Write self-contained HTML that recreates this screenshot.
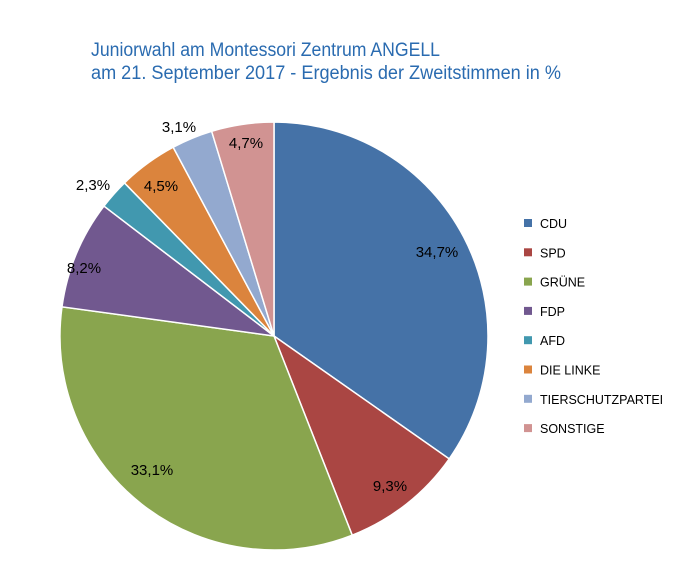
<!DOCTYPE html>
<html><head><meta charset="utf-8"><style>body{margin:0;background:#fff}svg{display:block}</style></head>
<body>
<svg id="s" width="685" height="567" xmlns="http://www.w3.org/2000/svg" font-family="Liberation Sans, sans-serif">
<text x="91" y="56" font-size="19" fill="#2a6bb0" textLength="349" lengthAdjust="spacingAndGlyphs">Juniorwahl am Montessori Zentrum ANGELL</text>
<text x="91" y="79" font-size="19" fill="#2a6bb0" textLength="470" lengthAdjust="spacingAndGlyphs">am 21. September 2017 - Ergebnis der Zweitstimmen in %</text>
<g id="pie"></g>
<g font-size="15" fill="#000">
<text x="437" y="257" text-anchor="middle">34,7%</text>
<text x="390" y="491" text-anchor="middle">9,3%</text>
<text x="152" y="475" text-anchor="middle">33,1%</text>
<text x="84" y="273" text-anchor="middle">8,2%</text>
<text x="93" y="190" text-anchor="middle">2,3%</text>
<text x="161" y="191" text-anchor="middle">4,5%</text>
<text x="179" y="132" text-anchor="middle">3,1%</text>
<text x="246" y="148" text-anchor="middle">4,7%</text>
</g>
<g id="leg" font-size="12.5" fill="#000"></g>
</svg>
<script>
var d=[[34.7,"#4572A7","CDU"],[9.3,"#AA4643","SPD"],[33.1,"#89A54E","GRÜNE"],[8.2,"#71588F","FDP"],[2.3,"#4198AF","AFD"],[4.5,"#DB843D","DIE LINKE"],[3.1,"#93A9CF","TIERSCHUTZPARTEI"],[4.7,"#D19392","SONSTIGE"]];
var cx=274,cy=336,r=214,tot=99.9,a=0,p="",l="";
d.forEach(function(e,i){var a0=a;a+=e[0]/tot*2*Math.PI;
var x0=cx+r*Math.sin(a0),y0=cy-r*Math.cos(a0),x1=cx+r*Math.sin(a),y1=cy-r*Math.cos(a);
p+='<path d="M'+cx+','+cy+'L'+x0+','+y0+'A'+r+','+r+' 0 '+((a-a0)>Math.PI?1:0)+' 1 '+x1+','+y1+'Z" fill="'+e[1]+'" stroke="#fff" stroke-width="1.5"/>';
var y=223+i*29.3;
l+='<rect x="524" y="'+(y-4)+'" width="8" height="8" fill="'+e[1]+'"/><text x="540" y="'+(y+5)+'">'+e[2]+'</text>';});
document.getElementById("pie").innerHTML=p;document.getElementById("leg").innerHTML=l;
</script>
</body></html>
